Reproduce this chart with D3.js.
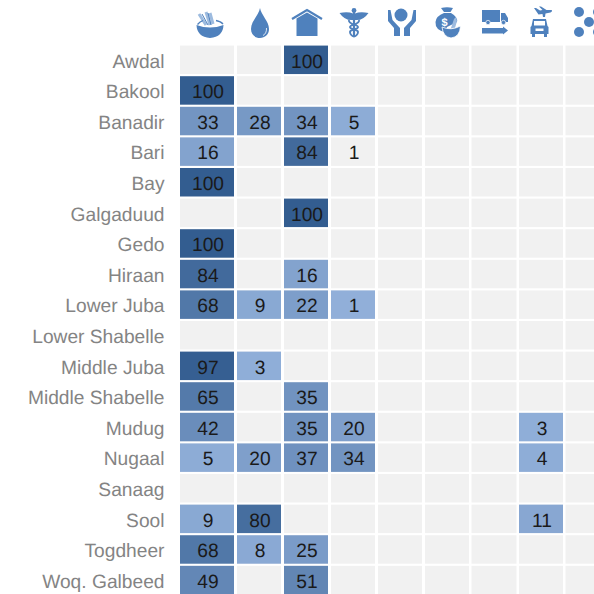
<!DOCTYPE html>
<html lang="en">
<head>
<meta charset="UTF-8" />
<title>Somalia regions heatmap</title>
<script src="https://d3js.org/d3.v7.min.js"></script>
<style>
    html, body { margin: 0; padding: 0; background: #fff; }
    svg { display: block; font-family: "Liberation Sans", Arial, sans-serif; text-rendering: geometricPrecision; }
    .region { fill: #848484; font-size: 19.2px; text-anchor: end; }
    .value { fill: #1a1a1a; font-size: 19.2px; text-anchor: middle; }
</style>
</head>
<body>
<div id="chart"></div>
<script>
// regions, top to bottom
var regions = ["Awdal", "Bakool", "Banadir", "Bari", "Bay", "Galgaduud", "Gedo", "Hiraan", "Lower Juba",
    "Lower Shabelle", "Middle Juba", "Middle Shabelle", "Mudug", "Nugaal", "Sanaag", "Sool", "Togdheer", "Woq. Galbeed"];

var clusters = ["food", "water", "shelter", "health", "protection", "livelihood", "logistics", "transport", "other"];

// share per region, same order as clusters (null = nothing reported)
var food      = [null, 100, 33, 16, 100, null, 100, 84, 68, null, 97, 65, 42, 5, null, 9, 68, 49];
var water     = [null, null, 28, null, null, null, null, null, 9, null, 3, null, null, 20, null, 80, 8, null];
var shelter   = [100, null, 34, 84, null, 100, null, 16, 22, null, null, 35, 35, 37, null, null, 25, 51];
// Bari rounds up to 1 but stays below the fill cut-off
var health    = [null, null, 5, 0.6, null, null, null, null, 1.4, null, null, null, 20, 34, null, null, null, null];
var transport = [null, null, null, null, null, null, null, null, null, null, null, null, 3, 4, null, 11, null, null];

var seriesByCluster = { food: food, water: water, shelter: shelter, health: health, transport: transport };

var w = 594, h = 594;

var svg = d3.select("#chart").append("svg").attr("width", w).attr("height", h);

// first column is wider than the rest
var colWidths = [54, 44, 44, 44, 44, 44, 45, 44, 44];
var colLeft = [180, 237, 284, 331, 378, 425, 471.5, 519, 565.5];
var x = d3.scaleOrdinal().domain(clusters).range(colLeft);
var colW = d3.scaleOrdinal().domain(clusters).range(colWidths);

var y = d3.scaleBand().domain(regions).range([45.6, 594.3]).paddingInner(0.07).paddingOuter(0);

var color = d3.scaleLinear().domain([0, 100]).range(["#92b0da", "#335d90"]);

// grey background cells
regions.forEach(function(r) {
    svg.selectAll(null)
        .data(clusters)
        .enter().append("rect")
        .attr("x", function(c) { return x(c); })
        .attr("y", y(r))
        .attr("width", function(c) { return colW(c); })
        .attr("height", y.bandwidth())
        .attr("fill", "#f1f1f1");
});

// region labels
svg.selectAll(".region")
    .data(regions)
    .enter().append("text")
    .attr("class", "region")
    .attr("x", 164.5)
    .attr("y", function(r) { return y(r) + y.bandwidth() / 2 + 7.8; })
    .text(function(r) { return r; });

// value cells
var cells = [];
Object.keys(seriesByCluster).forEach(function(c) {
    seriesByCluster[c].forEach(function(v, i) {
        if (v !== null) cells.push({ cluster: c, region: regions[i], value: v });
    });
});

svg.selectAll(".cell")
    .data(cells.filter(function(d) { return d.value >= 1; }))
    .enter().append("rect")
    .attr("class", "cell")
    .attr("x", function(d) { return x(d.cluster); })
    .attr("y", function(d) { return y(d.region); })
    .attr("width", function(d) { return colW(d.cluster); })
    .attr("height", y.bandwidth())
    .attr("fill", function(d) { return color(d.value); });

svg.selectAll(".value")
    .data(cells)
    .enter().append("text")
    .attr("class", "value")
    .attr("x", function(d) { return x(d.cluster) + colW(d.cluster) / 2 + 1; })
    .attr("y", function(d) { return y(d.region) + y.bandwidth() / 2 + 7.8; })
    .text(function(d) { return d3.format(".0f")(d.value); });

// icons, drawn around x=0 with real page y
var blue = "#4f81bd";
var lightBlue = "#9dbbdf";
var icons = {
    food: function(g) {
        g.append("path").attr("fill", "none").attr("stroke", lightBlue).attr("stroke-width", 3)
            .attr("d", "M-4,25 L-11,14 M0,25 L-4,12 M3,24 L0,13");
        g.append("path").attr("fill", "none").attr("stroke", blue).attr("stroke-width", 1)
            .attr("d", "M-2,25 L-8,14 M1,25 L-2,13");
        g.append("path").attr("d", "M-13.5,25 Q0,30 13.5,25 Q13,37 0,38 Q-13,37 -13.5,25Z");
        g.append("path").attr("fill", "none").attr("stroke", blue).attr("stroke-width", 1.3)
            .attr("d", "M-12.5,24.5 Q-10,21.5 -7,20.5 M6,20.5 Q11,21.5 13,24");
    },
    water: function(g) {
        g.append("path").attr("d", "M0,8 C1,15 9,21 9,29 C9,34.5 5,38 0,38 C-5,38 -9,34.5 -9,29 C-9,21 -1,15 0,8Z");
        g.append("path").attr("fill", "none").attr("stroke", "#fff").attr("stroke-width", 0.8)
            .attr("d", "M6.5,28 C6.8,32 5,34.5 3,35.5");
    },
    shelter: function(g) {
        g.append("path").attr("d", "M-10.5,18.5 L0,12.5 L10.5,18.5 L10.5,36 L-10.5,36Z");
        g.append("path").attr("fill", "none").attr("stroke", blue).attr("stroke-width", 2.2)
            .attr("d", "M-15,19 L0,10 L15,19");
    },
    health: function(g) {
        g.append("path").attr("d", "M-14.5,13 Q-6,11.5 -1,13.5 L-1,20 Q-9,21 -14.5,13Z M14.5,13 Q6,11.5 1,13.5 L1,20 Q9,21 14.5,13Z");
        g.append("circle").attr("cy", 10.5).attr("r", 2.4);
        g.append("rect").attr("x", -1.1).attr("y", 10).attr("width", 2.2).attr("height", 27);
        g.append("path").attr("fill", "none").attr("stroke", blue).attr("stroke-width", 1.9)
            .attr("d", "M-5,20 C-6,25 4,24 4,27 C4,30 -4,29 -4,32 C-4,35 -1,36.5 0,36.5 M5,20 C6,25 -4,24 -4,27 C-4,30 4,29 4,32 C4,35 1,36.5 0,36.5");
    },
    protection: function(g) {
        g.append("circle").attr("cx", -1).attr("cy", 15).attr("r", 6.5);
        g.append("path").attr("d", "M11.5,10 L14,10 L14,21 L8,28 L8,36 L2,36 L2,28 L9.5,20Z");
        g.append("path").attr("d", "M-11.5,10 L-14,10 L-14,21 L-8,28 L-8,36 L-2,36 L-2,28 L-9.5,20Z");
    },
    livelihood: function(g) {
        g.append("path").attr("d", "M-7,8 Q-1,6.5 5,8 L2.5,12 L-4,12Z");
        g.append("path").attr("d", "M-4,13 L3,13 Q10,17 9,22 L-1,27 L-3,32 Q-13,30 -12.5,22 Q-12,16 -4,13Z");
        g.append("text").attr("x", -3.5).attr("y", 26).attr("fill", "#fff").attr("font-size", 11).attr("font-weight", "bold")
            .attr("text-anchor", "middle").text("$");
        g.append("path").attr("d", "M3,28 L6,19 L8,17 L9,21 L7,28Z").attr("fill", lightBlue);
        g.append("path").attr("d", "M-6,27 Q3,31 12.5,26 Q12,37 3,38 Q-5,37 -6,27Z").attr("stroke", "#fff").attr("stroke-width", 0.8);
    },
    logistics: function(g) {
        g.append("rect").attr("x", -13).attr("y", 10).attr("width", 18).attr("height", 12);
        g.append("path").attr("d", "M6,13 L10,13 L13,18 L13,22 L6,22Z");
        g.append("circle").attr("cx", -7).attr("cy", 22.5).attr("r", 2.2).attr("stroke", "#fff").attr("stroke-width", 0.7);
        g.append("circle").attr("cx", 8.5).attr("cy", 22.5).attr("r", 2.2).attr("stroke", "#fff").attr("stroke-width", 0.7);
        g.append("path").attr("d", "M-13,28 L8,28 L8,26.5 L13,30.5 L8,34.5 L8,33.5 L-13,33.5Z");
    },
    transport: function(g) {
        g.append("path").attr("d", "M-5.5,8 L-3.5,8 L0.5,10.5 L3,10 L-0.5,6.5 L1.5,6.5 L7,10 L12,10 Q13.5,11 11,12.5 L6,13.5 L5.5,17 L3.5,17 L3,14 L-1,14.5 Z");
        g.append("path").attr("d", "M-6.5,19 L6.5,19 L8,26 L9,27 L9,34 L7.5,34 L7.5,37 L4.5,37 L4.5,34 L-4.5,34 L-4.5,37 L-7.5,37 L-7.5,34 L-9,34 L-9,27 L-8,26Z");
        g.append("rect").attr("x", -5.5).attr("y", 21).attr("width", 11).attr("height", 4.5).attr("fill", "#fff");
        g.append("rect").attr("x", -4).attr("y", 28.5).attr("width", 8).attr("height", 2.5).attr("fill", "#fff");
    },
    other: function(g) {
        g.append("circle").attr("cx", -10.5).attr("cy", 12).attr("r", 5);
        g.append("circle").attr("cx", -0.5).attr("cy", 22).attr("r", 5);
        g.append("circle").attr("cx", -10.5).attr("cy", 32).attr("r", 5);
        g.append("circle").attr("cx", 8.5).attr("cy", 12).attr("r", 5);
        g.append("circle").attr("cx", 8.5).attr("cy", 32).attr("r", 5);
    }
};

var iconOffset = { food: 3, water: 1, shelter: 1, health: 1, protection: 2, livelihood: 1, logistics: 1, transport: -1.5, other: 2 };

clusters.forEach(function(c) {
    var g = svg.append("g")
        .attr("fill", blue)
        .attr("transform", "translate(" + (x(c) + colW(c) / 2 + iconOffset[c]) + ",0)");
    icons[c](g);
});
</script>
</body>
</html>
